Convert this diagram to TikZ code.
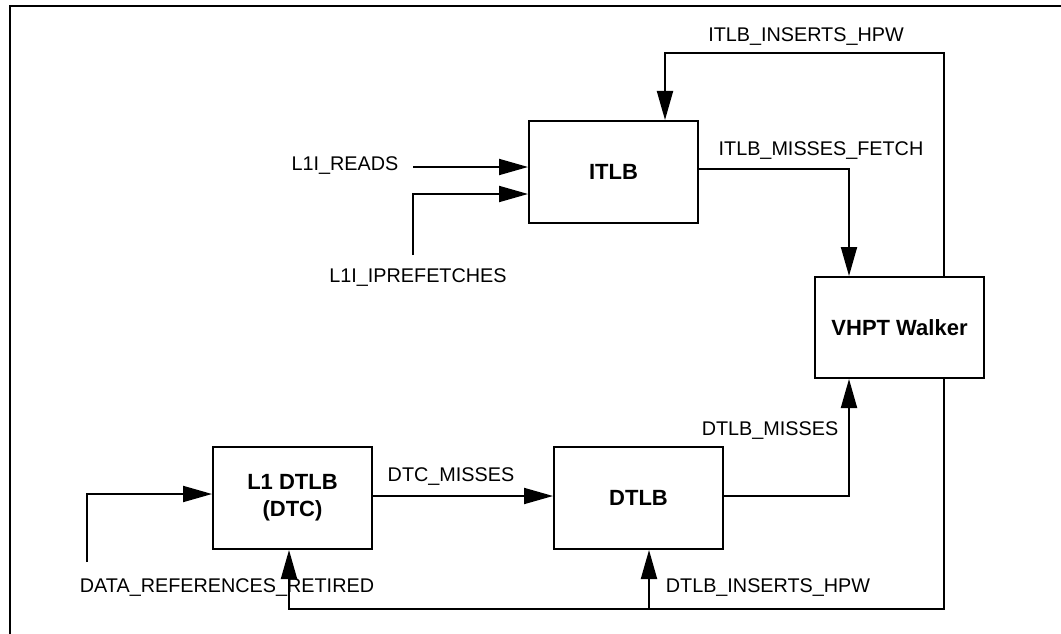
\documentclass[tikz,border=0pt]{standalone}
\usepackage{fontspec}
\setmainfont{Liberation Sans}
\usetikzlibrary{arrows.meta}
\tikzset{
  blk/.style={draw, line width=2pt, rectangle, inner sep=0pt, minimum height=102pt,
    font=\fontsize{22}{27}\selectfont\bfseries, align=center},
  lbl/.style={inner sep=0pt, font=\fontsize{19.8}{24}\selectfont},
  wire/.style={line width=2pt},
  arr/.style={line width=2pt, -{Triangle[length=29pt, width=16pt]}},
}
\begin{document}
\begin{tikzpicture}[x=1pt, y=-1pt]
\useasboundingbox (0,0) rectangle (1061,634);
\fill[white] (0,0) rectangle (1061,634);
\draw[line width=2pt] (10,640) -- (10,6) -- (1070,6);

% blocks
\node[blk, minimum width=169pt] (itlb) at (613.5,172) {ITLB};
\node[blk, minimum width=169pt, minimum height=101pt] (vhpt) at (899.5,327.5) {VHPT Walker};
\node[blk, minimum width=169pt] (dtlb) at (638.5,498) {DTLB};
\node[blk, minimum width=159pt] (l1) at (292.5,498) {L1 DTLB\\(DTC)};

% labels
\node[lbl] (tReads) at (345,166) {L1I\_READS};
\node[lbl] (tPref) at (418,278) {L1I\_IPREFETCHES};
\node[lbl] (tIIns) at (806,37) {ITLB\_INSERTS\_HPW};
\node[lbl] (tIMiss) at (821,151) {ITLB\_MISSES\_FETCH};
\node[lbl] (tDMiss) at (770,431) {DTLB\_MISSES};
\node[lbl] (tDtc) at (451,477) {DTC\_MISSES};
\node[lbl] (tData) at (227,588) {DATA\_REFERENCES\_RETIRED};
\node[lbl] (tDIns) at (768,588) {DTLB\_INSERTS\_HPW};

% free ends
\coordinate (readsStart) at (413,167);
\coordinate (pfStart) at (413,255);
\coordinate (drStart) at (87,562);
\coordinate (ihTop) at (800,53);
\coordinate (bot) at (649,609);

% connectors
\draw[arr] (readsStart) -- ([yshift=5pt]itlb.west);
\draw[arr] (pfStart) |- ([yshift=-22pt]itlb.west);
\draw[arr] ([yshift=3pt]itlb.east) -| ([xshift=-50.5pt]vhpt.north);
\draw[wire] ([xshift=44.5pt]vhpt.north) |- (ihTop);
\draw[arr] (ihTop) -| ([xshift=51.5pt]itlb.north);
\draw[arr] ([yshift=2pt]dtlb.east) -| ([xshift=-50.5pt]vhpt.south);
\draw[arr] ([yshift=2pt]l1.east) -- ([yshift=2pt]dtlb.west);
\draw[arr] (drStart) |- ([yshift=4pt]l1.west);
\draw[wire] ([xshift=44.5pt]vhpt.south) |- (bot);
\draw[arr] (bot) -- ([xshift=10.5pt]dtlb.south);
\draw[arr] (bot) -| ([xshift=-3.5pt]l1.south);
\end{tikzpicture}
\end{document}
